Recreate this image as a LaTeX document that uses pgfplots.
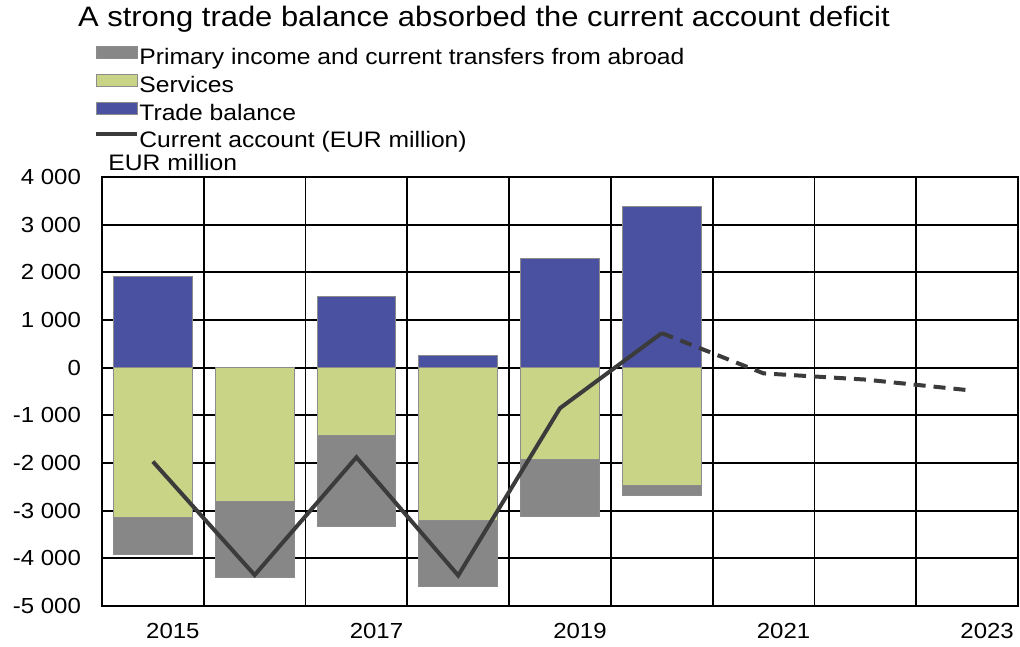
\documentclass[border=0pt]{standalone}
\usepackage{fontspec}
\setmainfont{Liberation Sans}[FakeStretch=1.1]
\usepackage{pgfplots}
\pgfplotsset{compat=1.18}
\definecolor{cgrey}{HTML}{878787}
\definecolor{cgreen}{HTML}{C9D487}
\definecolor{cblue}{HTML}{4A51A0}
\definecolor{cline}{HTML}{3B3B3B}
\pgfplotsset{
  barleg/.style={legend image code/.code={\fill[##1] (0pt,0pt) rectangle (20.5pt,6pt);}},
  lineleg/.style={legend image code/.code={\draw[##1] (0pt,3.5pt) -- (20.5pt,3.5pt);}},
}
\begin{document}
\begin{tikzpicture}
\begin{axis}[
  scale only axis, width=458pt, height=214.5pt,
  xmin=-0.5, xmax=8.5, ymin=-5000, ymax=4000,
  xtick={0,2,4,6,8}, xticklabels={2015,2017,2019,2021,2023},
  minor xtick={-0.5,0.5,...,8.5},
  ytick={-5000,-4000,...,4000},
  yticklabels={-5 000,-4 000,-3 000,-2 000,-1 000,0,1 000,2 000,3 000,4 000},
  xminorgrids=true, ymajorgrids=true, xmajorgrids=false,
  major tick length=0pt, minor tick length=0pt,
  grid style={black, line width=0.85pt},
  minor grid style={black, line width=0.85pt},
  axis line style={black, line width=0.85pt},
  tick label style={font=\fontsize{10.9}{13}\selectfont},
  xticklabel style={xshift=10pt, yshift=-5pt},
  yticklabel style={xshift=-7pt},
  legend cell align=left,
  legend style={at={(-0.0087,1.3054)}, anchor=north west, draw=none, fill=none,
    inner sep=0pt, outer sep=0pt, row sep=2.33pt, column sep=0.2pt,
    font=\fontsize{11.2}{13}\selectfont,
    nodes={inner sep=0pt, text height=8.5pt, text depth=2.5pt}},
  clip=false,
]
\addplot[ybar, bar width=0.775, bar shift=0pt, fill=cgrey, draw=black!45, line width=0.4pt, barleg]
  coordinates {(0,-3910) (1,-4400) (2,-3330) (3,-4580) (4,-3120) (5,-2680)};
\addlegendentry{Primary income and current transfers from abroad}
\addplot[ybar, bar width=0.775, bar shift=0pt, fill=cgreen, draw=black!45, line width=0.4pt, barleg]
  coordinates {(0,-3140) (1,-2815) (2,-1420) (3,-3210) (4,-1925) (5,-2470)};
\addlegendentry{Services}
\addplot[ybar, bar width=0.775, bar shift=0pt, fill=cblue, draw=black!45, line width=0.4pt, barleg]
  coordinates {(0,1910) (1,0) (2,1490) (3,250) (4,2300) (5,3390)};
\addlegendentry{Trade balance}
\addplot[cline, line width=2pt, lineleg]
  coordinates {(0,-1970) (1,-4350) (2,-1880) (3,-4360) (4,-850) (5,725)};
\addlegendentry{Current account (EUR million)}
\addplot[cline, line width=2pt, dash pattern=on 6pt off 4pt, forget plot]
  coordinates {(5,725) (6,-120) (7,-250) (8,-470)};
\node[anchor=base, inner sep=0pt, font=\fontsize{14.06}{16}\selectfont] at (rel axis cs:0.417,1.3497) {A strong trade balance absorbed the current account deficit};
\node[anchor=base west, inner sep=0pt, font=\fontsize{11.2}{13}\selectfont] at (rel axis cs:0.0066,1.014) {EUR million};
\coordinate (bbll) at (rel axis cs:-0.11135,-0.09557);
\coordinate (bbur) at (rel axis cs:1.00218,1.41259);
\end{axis}
\pgfresetboundingbox
\path[use as bounding box] (bbll) rectangle (bbur);
\end{tikzpicture}
\end{document}
